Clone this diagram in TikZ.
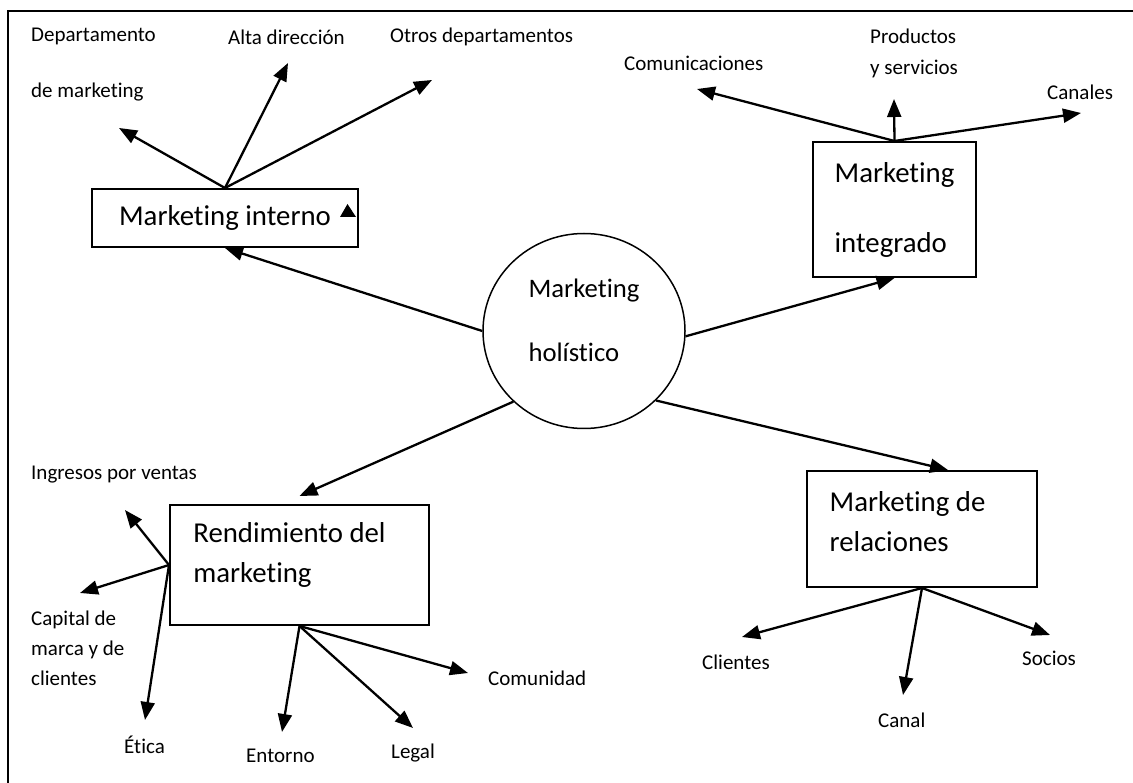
\documentclass[tikz,border=0pt]{standalone}
\usepackage{fontspec}
\setmainfont{Carlito}[Ligatures=CommonOff]
\usepackage{tikz}
\usetikzlibrary{arrows.meta,positioning,shapes.geometric}

\begin{document}
\begin{tikzpicture}[x=1pt, y=-1pt, >={Triangle[length=18pt, width=14pt]},
  caja/.style={draw, line width=2pt, inner sep=0pt},
  centro/.style={draw, ellipse, line width=1.5pt, inner sep=0pt, minimum width=202pt, minimum height=195pt},
  texto/.style={align=left, inner sep=0pt},
  etiq/.style={font=\fontsize{21}{30}\selectfont, align=left, anchor=west, inner sep=0pt},
  flecha/.style={->, line width=2.3pt}]
  \useasboundingbox (0,0) rectangle (1133,783);
  % marco
  \draw[line width=1.4pt] (1133,11) -- (8,11) -- (8,783);

  % centro y las cuatro cajas
  \node[centro, label={[texto, font=\fontsize{26.7}{64}\selectfont, yshift=11pt]center:Marketing\\holístico}] (hol) at (584,331) {};
  \node[caja, font=\fontsize{28.8}{40}\selectfont, minimum width=266pt, minimum height=58pt] (interno) at (225,218) {Marketing interno};
  \node[caja, texto, font=\fontsize{28.8}{70}\selectfont, minimum width=163pt, minimum height=135pt] (integrado) at (894.5,209.5) {Marketing\\integrado};
  \node[caja, minimum width=259pt, minimum height=120pt, label={[texto, font=\fontsize{28.8}{40}\selectfont, xshift=-10pt, yshift=10pt]center:Rendimiento del\\marketing}] (rend) at (299.5,565) {};
  \node[caja, minimum width=230pt, minimum height=116pt, label={[texto, font=\fontsize{28.8}{40}\selectfont, xshift=-14.5pt, yshift=7pt]center:Marketing de\\relaciones}] (rel) at (922,529) {};
  \fill (340,217) -- (347.5,204) -- (356,217) -- cycle;

  % etiquetas
  \node[etiq, font=\fontsize{21}{56}\selectfont] (dep) at (31,65) {Departamento\\de marketing};
  \node[etiq] (alta) at (228,37) {Alta dirección};
  \node[etiq] (otros) at (390,37) {Otros departamentos};
  \node[etiq] (com) at (624,63) {Comunicaciones};
  \node[etiq, font=\fontsize{21}{31}\selectfont] (prod) at (870,53.5) {Productos\\y servicios};
  \node[etiq] (canales) at (1047,92) {Canales};
  \node[etiq] (ingresos) at (31,475) {Ingresos por ventas};
  \node[etiq] (capital) at (31,648) {Capital de\\marca y de\\clientes};
  \node[etiq] (etica) at (124,745) {Ética};
  \node[etiq] (entorno) at (246,756) {Entorno};
  \node[etiq] (legal) at (391,753) {Legal};
  \node[etiq] (comunidad) at (488,678) {Comunidad};
  \node[etiq] (clientes) at (702,662) {Clientes};
  \node[etiq] (canal) at (878,720) {Canal};
  \node[etiq] (socios) at (1022,658) {Socios};

  % puntas libres de las flechas
  \coordinate (dep-p) at (119,128);
  \coordinate (alta-p) at (288,63);
  \coordinate (otros-p) at (432,80);
  \coordinate (com-p) at (697,89);
  \coordinate (prod-p) at (894,99);
  \coordinate (canales-p) at (1081,113);
  \coordinate (ingresos-p) at (125,510);
  \coordinate (capital-p) at (80,593);
  \coordinate (etica-p) at (145,720);
  \coordinate (entorno-p) at (282,732);
  \coordinate (legal-p) at (413,728);
  \coordinate (comunidad-p) at (468,673);
  \coordinate (clientes-p) at (742,637);
  \coordinate (canal-p) at (903,695);
  \coordinate (socios-p) at (1050,635);

  % del centro a las cajas
  \draw[flecha] (hol.west) -- (interno.south);
  \draw[flecha] (hol.-3) -- (integrado.south);
  \draw[flecha] (hol.225) -- ([yshift=8pt]rend.north);
  \draw[flecha] (hol.-44) -- ([xshift=26pt]rel.north);

  % de cada caja a sus componentes
  \foreach \p in {dep,alta,otros} \draw[flecha] (interno.north) -- (\p-p);
  \foreach \p in {com,prod,canales} \draw[flecha] (integrado.north) -- (\p-p);
  \foreach \p in {ingresos,capital,etica} \draw[flecha] (rend.west) -- (\p-p);
  \foreach \p in {entorno,legal,comunidad} \draw[flecha] (rend.south) -- (\p-p);
  \foreach \p in {clientes,canal,socios} \draw[flecha] (rel.south) -- (\p-p);
\end{tikzpicture}
\end{document}
